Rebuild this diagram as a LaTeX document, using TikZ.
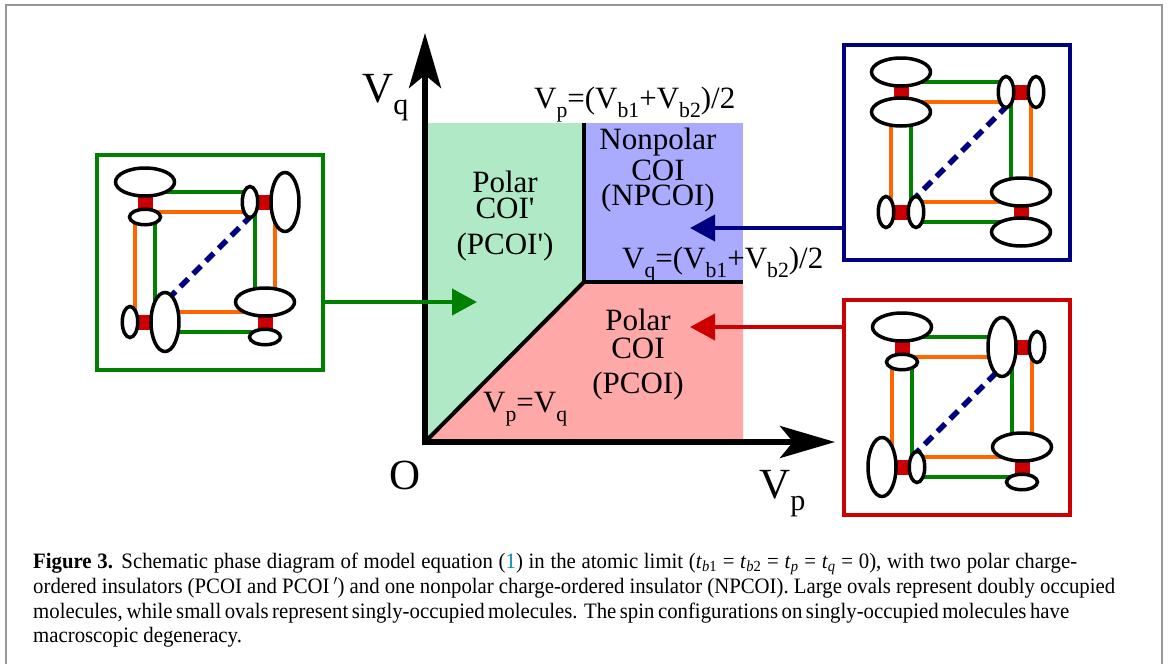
\documentclass[tikz,border=0pt]{standalone}
\usepackage{graphicx}
\usepackage{fontspec}
\setmainfont{Liberation Serif}
\newfontfamily\capfont[FakeStretch=0.945]{Liberation Serif}
\usetikzlibrary{shapes.geometric,arrows.meta,backgrounds}
\definecolor{bondGreen}{RGB}{0, 128, 0}
\definecolor{bondOrange}{RGB}{255, 102, 0}
\definecolor{barRed}{RGB}{204, 0, 0}
\definecolor{diagNavy}{RGB}{0, 0, 128}
\definecolor{regionGreen}{RGB}{175, 233, 198}
\definecolor{regionBlue}{RGB}{170, 170, 255}
\definecolor{regionPink}{RGB}{255, 168, 168}
\definecolor{frameGrey}{RGB}{150, 150, 150}
\definecolor{citeTeal}{RGB}{0, 140, 170}
\newcommand{\lw}[1]{\raisebox{-.3em}{\scalebox{.7}{#1}}}
\tikzset{
    oval/.style={ellipse,draw=black,fill=white,line width=3.5pt,inner sep=0pt},
    bigh/.style={oval,minimum width=59pt,minimum height=28pt},
    smallh/.style={oval,minimum width=31pt,minimum height=15.5pt},
    bigv/.style={oval,minimum width=28pt,minimum height=59pt},
    smallv/.style={oval,minimum width=15.5pt,minimum height=31pt},
    bigup/.style={bigh,yshift=20pt},
    bigdown/.style={bigh,yshift=-20pt},
    smalldown/.style={smallh,yshift=-15pt},
    bigleft/.style={bigv,xshift=-20pt},
    smallleft/.style={smallv,xshift=-15pt},
    bigright/.style={bigv,xshift=20pt},
    smallright/.style={smallv,xshift=15pt},
    greenbond/.style={bondGreen,line width=4pt},
    orangebond/.style={bondOrange,line width=4pt},
    redbar/.style={barRed,line width=15pt},
    diagbond/.style={diagNavy,line width=5.5pt,dash pattern=on 11pt off 7pt},
    panelbox/.style={rectangle,draw,fill=none,line width=4pt,minimum width=226pt,minimum height=215pt},
    feed/.style={line width=4pt,-{Triangle[length=25pt,width=26pt]}},
    axis/.style={black,line width=5.5pt,-{Stealth[length=55pt,width=32pt,inset=13pt]}},
    border/.style={black,line width=4pt},
    phase/.style={inner sep=0pt,font=\fontsize{31}{31}\selectfont},
    biglab/.style={anchor=base west,inner sep=0pt,font=\fontsize{43}{43}\selectfont},
    midlab/.style={anchor=base west,inner sep=0pt,font=\fontsize{31}{31}\selectfont},
    caption/.style={anchor=base west,inner sep=0pt,font=\capfont\fontsize{22}{22}\selectfont}
}
% one panel of four dimers: name, origin, then the six ovals that change
\newcommand{\molpanel}[8]{
    \begin{scope}[shift={#2},name prefix=#1-]
        \coordinate (tl) at (60,49);
        \coordinate (tr) at (180,49);
        \coordinate (bl) at (60,169);
        \coordinate (br) at (180,169);
        \node[bigup] (tla) at (tl) {};
        \node[#3] (tlb) at (tl) {};
        \node[#4] (tra) at (tr) {};
        \node[#5] (trb) at (tr) {};
        \node[#6] (bla) at (bl) {};
        \node[#7] (blb) at (bl) {};
        \node[bigup] (bra) at (br) {};
        \node[#8] (brb) at (br) {};
        \begin{scope}[on background layer]
            \draw[greenbond] ([yshift=10pt]tl) -- ([xshift=-15pt,yshift=10pt]tr);
            \draw[orangebond] ([yshift=-10pt]tl) -- ([xshift=-15pt,yshift=-10pt]tr);
            \draw[orangebond] ([xshift=-10pt,yshift=-15pt]tl) -- ([xshift=-10pt]bl);
            \draw[greenbond] ([xshift=10pt,yshift=-15pt]tl) -- ([xshift=10pt]bl);
            \draw[greenbond] ([xshift=-10pt]tr) -- ([xshift=-10pt,yshift=20pt]br);
            \draw[orangebond] ([xshift=10pt]tr) -- ([xshift=10pt,yshift=20pt]br);
            \draw[orangebond] ([xshift=15pt,yshift=10pt]bl) -- ([yshift=10pt]br);
            \draw[greenbond] ([xshift=15pt,yshift=-10pt]bl) -- ([yshift=-10pt]br);
            \draw[diagbond] ([xshift=10pt,yshift=10pt]bl) -- ([xshift=-10pt,yshift=-10pt]tr);
            \draw[redbar] (tla.center) -- (tlb.center);
            \draw[redbar] (tra.center) -- (trb.center);
            \draw[redbar] (bla.center) -- (blb.center);
            \draw[redbar] (bra.center) -- (brb.center);
        \end{scope}
    \end{scope}
}
\begin{document}
\begin{tikzpicture}[x=1pt,y=-1pt]
    \useasboundingbox (0,0) rectangle (1168,664);
    % Page frame, open at the bottom
    \draw[frameGrey,line width=2pt] (6,664) -- (6,5) -- (1162,5) -- (1162,664);
    % Phase regions
    \fill[regionGreen] (425,123) -- (584,123) -- (584,282) -- (425,442) -- cycle;
    \fill[regionBlue] (584,123) rectangle (743,282);
    \fill[regionPink] (425,442) -- (584,282) -- (743,282) -- (743,442) -- cycle;
    % Phase boundaries
    \coordinate (origin) at (425,442);
    \coordinate (triple) at (584,282);
    \coordinate (topend) at (584,123);
    \coordinate (rightend) at (743,282);
    \draw[border] (origin) -- (triple);
    \draw[border] (topend) -- (triple);
    \draw[border] (triple) -- (rightend);
    % Axes
    \coordinate (qtip) at (425,33);
    \coordinate (ptip) at (835,442);
    \coordinate (corner) at (422.25,442);
    \coordinate (foot) at (425,444.75);
    \draw[axis] (corner) -- (ptip);
    \draw[axis] (foot) -- (qtip);
    % Region labels
    \node[phase] (polara) at (505,182) {Polar};
    \node[phase] (coia) at (505,208) {COI\textquotesingle};
    \node[phase] (pcoia) at (505,247) {(PCOI\textquotesingle)};
    \node[phase] (nonpolar) at (658,142) {Nonpolar};
    \node[phase] (coib) at (658,170) {COI};
    \node[phase] (npcoi) at (658,198) {(NPCOI)};
    \node[phase] (polarc) at (638,320) {Polar};
    \node[phase] (coic) at (638,348) {COI};
    \node[phase] (pcoi) at (638,386) {(PCOI)};
    % Axis and boundary labels
    \node[biglab] (vq) at (362,102) {V\lw{q}};
    \node[biglab] (vp) at (759,498) {V\lw{p}};
    \node[font=\fontsize{43}{43}\selectfont] (o) at (405,475) {O};
    \node[midlab] (vpline) at (534,108) {V\lw{p}=(V\lw{b1}+V\lw{b2})/2};
    \node[midlab] (vqline) at (622,268) {V\lw{q}=(V\lw{b1}+V\lw{b2})/2};
    \node[midlab] (vpq) at (483,412) {V\lw{p}=V\lw{q}};
    % Molecule panels
    \node[panelbox,draw=bondGreen] (greenbox) at (210,262.5) {};
    \node[panelbox,draw=diagNavy] (bluebox) at (956.5,152) {};
    \node[panelbox,draw=barRed] (redbox) at (957,407) {};
    \molpanel{g}{(85,153)}{smalldown}{smallleft}{bigright}{smallleft}{bigright}{smalldown}
    \molpanel{b}{(841,43)}{bigdown}{smallleft}{smallright}{smallleft}{smallright}{bigdown}
    \molpanel{r}{(842,298)}{smalldown}{bigleft}{smallright}{bigleft}{smallright}{smalldown}
    % Arrows from panels to regions
    \coordinate (greentip) at (477,302);
    \coordinate (bluetip) at (690,228);
    \coordinate (redtip) at (690,327);
    \draw[feed,bondGreen] (greentip -| greenbox.east) -- (greentip);
    \draw[feed,diagNavy] (bluetip -| bluebox.west) -- (bluetip);
    \draw[feed,barRed] (redtip -| redbox.west) -- (redtip);
    % Caption
    \node[caption] (capa) at (33,568) {\makebox[1044pt][s]{\textbf{Figure 3.} Schematic phase diagram of model equation (\textcolor{citeTeal}{1}) in the atomic limit (\textit{t}\textsubscript{\textit{b}1} = \textit{t}\textsubscript{\textit{b}2} = \textit{t}\textsubscript{\textit{p}} = \textit{t}\textsubscript{\textit{q}} = 0), with two polar charge-}};
    \node[caption] (capb) at (33,593) {\makebox[1082pt][s]{ordered insulators (PCOI and PCOI\,$'$) and one nonpolar charge-ordered insulator (NPCOI). Large ovals represent doubly occupied}};
    \node[caption] (capc) at (33,618) {\makebox[1036pt][s]{molecules, while small ovals represent singly-occupied molecules. The spin configurations on singly-occupied molecules have}};
    \node[caption] (capd) at (33,642) {macroscopic degeneracy.};
\end{tikzpicture}
\end{document}
